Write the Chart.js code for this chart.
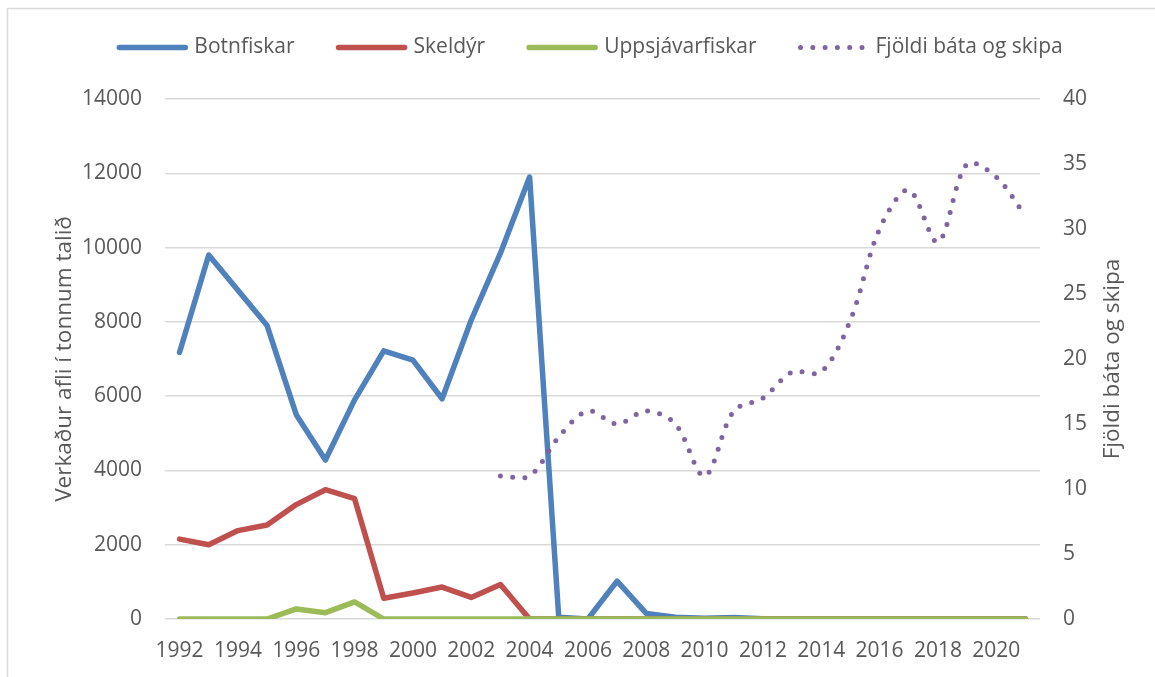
<!DOCTYPE html>
<html>
<head>
<meta charset="utf-8">
<script src="https://cdn.jsdelivr.net/npm/chart.js@4.4.1/dist/chart.umd.min.js"></script>
<style>
  html, body { margin: 0; padding: 0; background: #fff; }
  canvas { display: block; }
</style>
</head>
<body>
<canvas id="afliChart" width="1155" height="677"></canvas>
<script>
// ár 1992-2021
const years = ['1992', '1993', '1994', '1995', '1996', '1997', '1998', '1999', '2000', '2001',
               '2002', '2003', '2004', '2005', '2006', '2007', '2008', '2009', '2010', '2011',
               '2012', '2013', '2014', '2015', '2016', '2017', '2018', '2019', '2020', '2021'];

// tonn
const botnfiskar = [7180, 9800, 8850, 7900, 5500, 4280, 5900, 7220, 6970, 5930,
                    8050, 9850, 11900, 50, 0, 1020, 150, 45, 20, 40,
                    10, 0, 0, 0, 0, 0, 0, 0, 0, 0];
const skeldyr = [2150, 2000, 2380, 2530, 3080, 3480, 3240, 560, 700, 860,
                 580, 930, 0, 0, 0, 0, 0, 0, 0, 0,
                 0, 0, 0, 0, 0, 0, 0, 0, 0, 0];
const uppsjavarfiskar = [0, 0, 0, 0, 270, 170, 460, 0, 0, 0,
                         0, 0, 0, 0, 0, 0, 0, 0, 0, 0,
                         0, 0, 0, 0, 0, 0, 0, 0, 0, 0];
// fjöldi báta og skipa (hægri ás)
const fjoldiSkipa = [null, null, null, null, null, null, null, null, null, null,
                     null, 11, 11, 14, 16, 15, 16, 15, 11, 16,
                     17, 19, 19, 23, 30, 33, 29, 35, 34, 31];

const leftTicks = [0, 2000, 4000, 6000, 8000, 10000, 12000, 14000];
const rightTicks = [0, 5, 10, 15, 20, 25, 30, 35, 40];

const textColor = '#595959';
const gridColor = '#D9D9D9';
const fontFamily = "'Open Sans', sans-serif";

Chart.defaults.font.family = fontFamily;
Chart.defaults.font.size = 21;
Chart.defaults.color = textColor;

// legend drawn like the Excel one (long line samples, dotted for the count)
const excelLegend = {
    id: 'excelLegend',
    afterDraw(chart) {
        const ctx = chart.ctx;
        const sets = chart.data.datasets;
        const lineLen = 66, gapText = 9, gapItem = 44, y = 47.5;
        ctx.save();
        ctx.font = '21px ' + fontFamily;
        const widths = sets.map(d => lineLen + gapText + ctx.measureText(d.label).width);
        const total = widths.reduce((a, b) => a + b, 0) + gapItem * (sets.length - 1);
        let x = 591 - total / 2;
        sets.forEach((d, i) => {
            ctx.beginPath();
            ctx.setLineDash(d.borderDash || []);
            ctx.lineCap = 'round';
            ctx.lineWidth = d.borderWidth;
            ctx.strokeStyle = d.borderColor;
            ctx.moveTo(x, y);
            ctx.lineTo(x + lineLen, y);
            ctx.stroke();
            ctx.setLineDash([]);
            ctx.fillStyle = textColor;
            ctx.textBaseline = 'middle';
            ctx.textAlign = 'left';
            ctx.fillText(d.label, x + lineLen + gapText, y);
            x += widths[i] + gapItem;
        });
        ctx.restore();
    }
};

// right axis title reads bottom-to-top in the original, plus the chart frame
const frameAndTitle = {
    id: 'frameAndTitle',
    beforeDraw(chart) {
        const ctx = chart.ctx;
        ctx.save();
        ctx.fillStyle = '#fff';
        ctx.fillRect(0, 0, chart.width, chart.height);
        ctx.strokeStyle = gridColor;
        ctx.lineWidth = 1.5;
        ctx.strokeRect(7.5, 8.5, 1170, 700);
        ctx.restore();
    },
    afterDraw(chart) {
        const ctx = chart.ctx;
        const ya = chart.scales.y1;
        ctx.save();
        ctx.translate(1113, (ya.top + ya.bottom) / 2);
        ctx.rotate(-Math.PI / 2);
        ctx.font = '22.5px ' + fontFamily;
        ctx.fillStyle = textColor;
        ctx.textAlign = 'center';
        ctx.textBaseline = 'middle';
        ctx.fillText('Fjöldi báta og skipa', 0, 0);
        ctx.restore();
    }
};

new Chart(document.getElementById('afliChart'), {
    type: 'line',
    data: {
        labels: years,
        datasets: [{
            label: 'Botnfiskar',
            data: botnfiskar,
            borderColor: '#4F81BD',
            borderWidth: 5.5,
            tension: 0,
            order: 4,
            yAxisID: 'y'
        }, {
            label: 'Skeldýr',
            data: skeldyr,
            borderColor: '#C0504D',
            borderWidth: 5.5,
            tension: 0,
            order: 3,
            yAxisID: 'y'
        }, {
            label: 'Uppsjávarfiskar',
            data: uppsjavarfiskar,
            borderColor: '#9BBB59',
            borderWidth: 5.5,
            tension: 0,
            order: 2,
            yAxisID: 'y'
        }, {
            label: 'Fjöldi báta og skipa',
            data: fjoldiSkipa,
            borderColor: '#8064A2',
            borderWidth: 5,
            borderDash: [0, 12.3],
            tension: 0.33,
            order: 1,
            yAxisID: 'y1'
        }]
    },
    options: {
        responsive: false,
        animation: false,
        devicePixelRatio: 1,
        layout: { padding: { top: 99, left: 0, right: 0, bottom: 0 } },
        elements: {
            point: { radius: 0, hoverRadius: 0 },
            line: { borderCapStyle: 'round', borderJoinStyle: 'round', fill: false }
        },
        plugins: {
            legend: { display: false },
            tooltip: { enabled: false }
        },
        scales: {
            x: {
                type: 'category',
                offset: true,
                grid: { display: false, drawTicks: false },
                border: { display: false },
                ticks: {
                    autoSkip: false,
                    maxRotation: 0,
                    padding: 19,
                    callback: (v, i) => (i % 2 === 0 ? years[i] : '')
                },
                afterFit: s => { s.height = 58; }
            },
            y: {
                position: 'left',
                min: 0,
                max: 14000,
                afterBuildTicks: s => { s.ticks = leftTicks.map(v => ({ value: v })); },
                grid: { color: gridColor, lineWidth: 1.5, drawTicks: false },
                border: { display: false },
                ticks: { padding: 23, callback: v => String(v) },
                title: {
                    display: true,
                    text: 'Verkaður afli í tonnum talið',
                    font: { size: 22.5 },
                    padding: { top: 51, bottom: 0 }
                },
                afterFit: s => { s.width = 165; }
            },
            y1: {
                position: 'right',
                min: 0,
                max: 40,
                afterBuildTicks: s => { s.ticks = rightTicks.map(v => ({ value: v })); },
                grid: { drawOnChartArea: false, drawTicks: false },
                border: { display: false },
                ticks: { padding: 23, callback: v => String(v) },
                afterFit: s => { s.width = 115; }
            }
        }
    },
    plugins: [frameAndTitle, excelLegend]
});
</script>
</body>
</html>
